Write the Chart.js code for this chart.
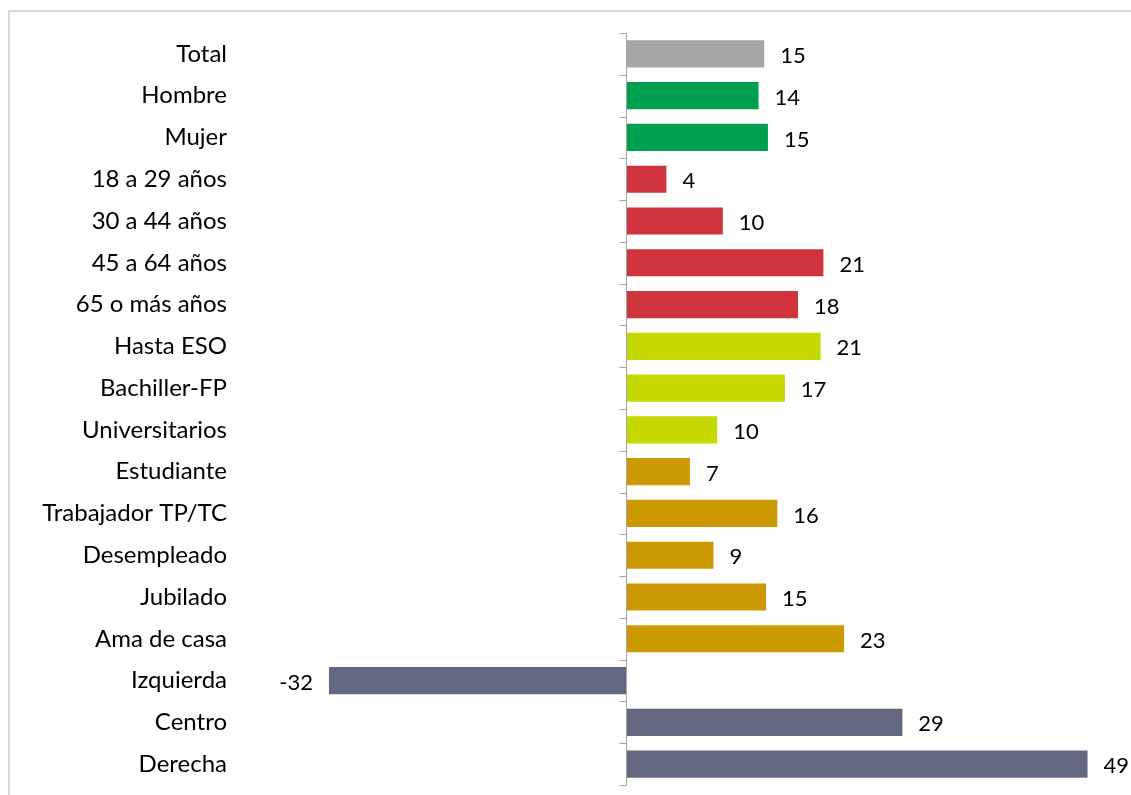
<!DOCTYPE html>
<html>
<head>
<meta charset="utf-8">
<script src="https://cdn.jsdelivr.net/npm/chart.js@4/dist/chart.umd.min.js"></script>
<style>
    html, body { margin: 0; padding: 0; background: #fff; overflow: hidden; }
    #wrap { position: relative; width: 1131px; height: 795px; }
    #frame { position: absolute; left: 8px; top: 10px; width: 1140px; height: 800px; border: 2px solid #d9d9d9; box-sizing: border-box; }
    canvas { position: absolute; left: 0; top: 0; }
</style>
</head>
<body>
<div id="wrap">
    <div id="frame"></div>
    <canvas id="groupChart" width="1131" height="795"></canvas>
</div>
<script>
const categories = [
    'Total', 'Hombre', 'Mujer', '18 a 29 años', '30 a 44 años', '45 a 64 años', '65 o más años',
    'Hasta ESO', 'Bachiller-FP', 'Universitarios', 'Estudiante', 'Trabajador TP/TC',
    'Desempleado', 'Jubilado', 'Ama de casa', 'Izquierda', 'Centro', 'Derecha'
];
const values = [14.7, 14.1, 15.1, 4.3, 10.3, 21.0, 18.3, 20.7, 16.9, 9.7, 6.8, 16.1, 9.3, 14.9, 23.2, -31.6, 29.4, 49.1];
const barColors = [
    '#a5a5a5',
    '#00a050', '#00a050',
    '#d0343c', '#d0343c', '#d0343c', '#d0343c',
    '#c5d800', '#c5d800', '#c5d800',
    '#cc9900', '#cc9900', '#cc9900', '#cc9900', '#cc9900',
    '#646780', '#646780', '#646780'
];
const axisMin = -40;
const axisMax = 50;

const labelFont = '22px Lato, "Open Sans", sans-serif';

// value labels next to each bar end
const valueLabels = {
    id: 'valueLabels',
    afterDatasetsDraw(chart) {
        const { ctx } = chart;
        const meta = chart.getDatasetMeta(0);
        ctx.save();
        ctx.font = labelFont;
        ctx.fillStyle = '#000';
        ctx.textBaseline = 'middle';
        meta.data.forEach((bar, i) => {
            const v = values[i];
            const txt = String(Math.round(v));
            if (v >= 0) {
                ctx.textAlign = 'left';
                ctx.fillText(txt, bar.x + 16, bar.y + 2);
            } else {
                ctx.textAlign = 'right';
                ctx.fillText(txt, bar.x - 16, bar.y + 2);
            }
        });
        ctx.restore();
    }
};

// vertical axis at zero with small tick marks between categories
const zeroAxis = {
    id: 'zeroAxis',
    afterDatasetsDraw(chart) {
        const { ctx, scales: { x, y } } = chart;
        const x0 = Math.round(x.getPixelForValue(0)) + 0.5;
        const step = y.getPixelForValue(1) - y.getPixelForValue(0);
        const top = y.getPixelForValue(0) - step / 2;
        const bottom = y.getPixelForValue(categories.length - 1) + step / 2;
        ctx.save();
        ctx.strokeStyle = '#a6a6a6';
        ctx.lineWidth = 1;
        ctx.beginPath();
        ctx.moveTo(x0, top);
        ctx.lineTo(x0, bottom);
        for (let i = 0; i <= categories.length; i++) {
            const yy = Math.round(top + i * step) + 0.5;
            ctx.moveTo(x0 - 7, yy);
            ctx.lineTo(x0, yy);
        }
        ctx.stroke();
        ctx.restore();
    }
};

new Chart(document.getElementById('groupChart').getContext('2d'), {
    type: 'bar',
    data: {
        labels: categories,
        datasets: [{
            data: values,
            backgroundColor: barColors,
            borderWidth: 0,
            barPercentage: 0.65,
            categoryPercentage: 1,
        }],
    },
    options: {
        responsive: false,
        animation: false,
        indexAxis: 'y',
        layout: { padding: { top: 33, bottom: 10, left: 0, right: 35 } },
        scales: {
            x: {
                min: axisMin,
                max: axisMax,
                display: false,
                grid: { display: false },
            },
            y: {
                afterFit: (scale) => { scale.width = 250; scale.paddingTop = 0; scale.paddingBottom = 0; },
                grid: { display: false, drawTicks: false },
                border: { display: false },
                ticks: {
                    padding: 23,
                    color: '#000',
                    font: { family: 'Lato, "Open Sans", sans-serif', size: 24 },
                    autoSkip: false,
                },
            },
        },
        plugins: {
            legend: { display: false },
            tooltip: { enabled: false },
        },
    },
    plugins: [valueLabels, zeroAxis],
});
</script>
</body>
</html>
